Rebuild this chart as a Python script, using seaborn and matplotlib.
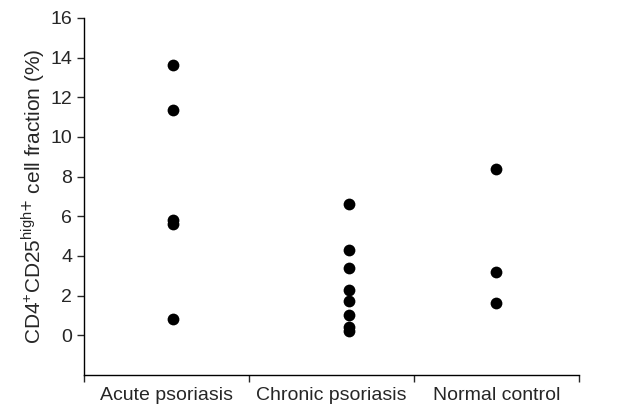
import pandas as pd
import numpy as np
import seaborn as sns
import matplotlib.pyplot as plt

groups = ["Acute psoriasis", "Chronic psoriasis", "Normal control"]
acute = [13.6, 11.35, 5.8, 5.6, 0.8]
chronic = [6.6, 4.3, 3.4, 2.3, 1.7, 1.0, 0.4, 0.2]
normal = [8.4, 3.2, 1.6]
yticks = [0, 2, 4, 6, 8, 10, 12, 14, 16]

# small horizontal shift of each column of dots, as in the original figure
shift = [0.04, 0.11, 0.0]

df = pd.DataFrame({
    "group": [0] * len(acute) + [1] * len(chronic) + [2] * len(normal),
    "value": acute + chronic + normal,
})
df["x"] = df["group"] + df["group"].map(lambda g: shift[g])

sns.set_style("ticks")
plt.rcParams['font.family'] = ['Liberation Sans', 'DejaVu Sans']

fig, ax = plt.subplots(figsize=(6.17, 4.07), dpi=100)
fig.subplots_adjust(left=0.136, right=0.938, bottom=0.079, top=0.956)

sns.scatterplot(data=df, x="x", y="value", color="black", s=72,
                linewidth=0, ax=ax, legend=False)

ax.set_xlim(-0.5, 2.5)
ax.set_ylim(-2, 16)
ax.set_yticks(yticks)
ax.set_xticks([0, 1, 2])
ax.set_xticklabels(groups)
ax.set_xticks([-0.5, 0.5, 1.5, 2.5], minor=True)
ax.tick_params(axis="x", which="major", length=0, labelsize=14, pad=9)
ax.tick_params(axis="x", which="minor", length=5, width=1, direction="out")
ax.tick_params(axis="y", length=5, width=1, labelsize=14)
ax.set_xlabel("")
ax.set_ylabel(r"CD4$^{\mathregular{+}}$CD25$^{\mathregular{high}{+}}$ cell fraction (%)",
              fontsize=15, labelpad=2)
sns.despine(ax=ax)
for s in ["left", "bottom"]:
    ax.spines[s].set_linewidth(1)
    ax.spines[s].set_color("black")

fig.savefig("out.png", dpi=100)
